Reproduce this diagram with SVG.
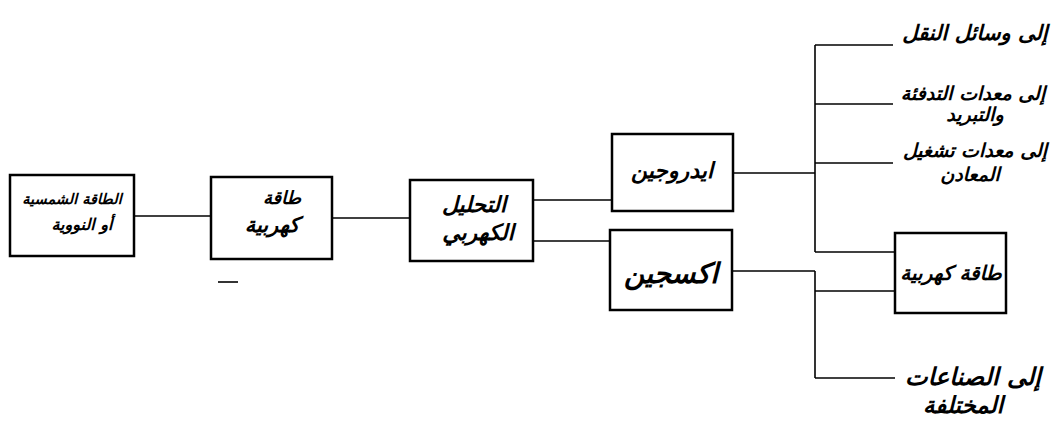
<svg xmlns="http://www.w3.org/2000/svg" width="1063" height="430" viewBox="0 0 1063 430">
<style>
.box{fill:#fff;stroke:#000;stroke-width:2.5}
.ln{fill:none;stroke:#000;stroke-width:1.6}
.t{font-family:"DejaVu Sans",sans-serif;font-weight:bold;font-style:italic;fill:#000;text-anchor:middle}
</style>
<rect width="1063" height="430" fill="#fff"/>
<g id="connectors">
<line class="ln" x1="134" y1="216" x2="211" y2="216"/>
<line class="ln" x1="332" y1="218" x2="410" y2="218"/>
<line class="ln" x1="533" y1="200" x2="612" y2="200"/>
<line class="ln" x1="533" y1="241" x2="610" y2="241"/>
<line class="ln" x1="733" y1="173" x2="815" y2="173"/>
<line class="ln" x1="815" y1="45" x2="815" y2="252"/>
<line class="ln" x1="815" y1="45" x2="893" y2="45"/>
<line class="ln" x1="815" y1="104" x2="893" y2="104"/>
<line class="ln" x1="815" y1="163" x2="893" y2="163"/>
<line class="ln" x1="815" y1="252" x2="895" y2="252"/>
<line class="ln" x1="732" y1="271" x2="815" y2="271"/>
<line class="ln" x1="815" y1="271" x2="815" y2="378"/>
<line class="ln" x1="815" y1="291" x2="895" y2="291"/>
<line class="ln" x1="815" y1="378" x2="895" y2="378"/>
<line class="ln" x1="218" y1="282" x2="238" y2="282"/>
</g>
<g id="solar">
<rect class="box" x="10" y="175" width="124" height="81"/>
<text class="t" x="72" y="204" font-size="14.5">الطاقة الشمسية</text>
<text class="t" x="82" y="230" font-size="16">أو النووية</text>
</g>
<g id="power1">
<rect class="box" x="211" y="177" width="121" height="82"/>
<text class="t" x="282" y="204" font-size="18">طاقة</text>
<text class="t" x="272" y="232" font-size="21">كهربية</text>
</g>
<g id="electrolysis">
<rect class="box" x="410" y="180" width="123" height="81"/>
<text class="t" x="474" y="212" font-size="22">التحليل</text>
<text class="t" x="478" y="240" font-size="22">الكهربي</text>
</g>
<g id="hydrogen">
<rect class="box" x="612" y="134" width="121" height="77"/>
<text class="t" x="672" y="178" font-size="22">ايدروجين</text>
</g>
<g id="oxygen">
<rect class="box" x="610" y="230" width="122" height="80"/>
<text class="t" x="671" y="283" font-size="28">اكسجين</text>
</g>
<g id="power2">
<rect class="box" x="895" y="233" width="111" height="80"/>
<text class="t" x="951" y="280" font-size="20">طاقة كهربية</text>
</g>
<g id="out1">
<text class="t" x="975" y="40" font-size="21">إلى وسائل النقل</text>
</g>
<g id="out2">
<text class="t" x="973" y="100" font-size="19">إلى معدات التدفئة</text>
<text class="t" x="975" y="121" font-size="19">والتبريد</text>
</g>
<g id="out3">
<text class="t" x="975" y="157" font-size="19">إلى معدات تشغيل</text>
<text class="t" x="970" y="181" font-size="19">المعادن</text>
</g>
<g id="out4">
<text class="t" x="973" y="385" font-size="24">إلى الصناعات</text>
<text class="t" x="963" y="413" font-size="23">المختلفة</text>
</g>
</svg>
